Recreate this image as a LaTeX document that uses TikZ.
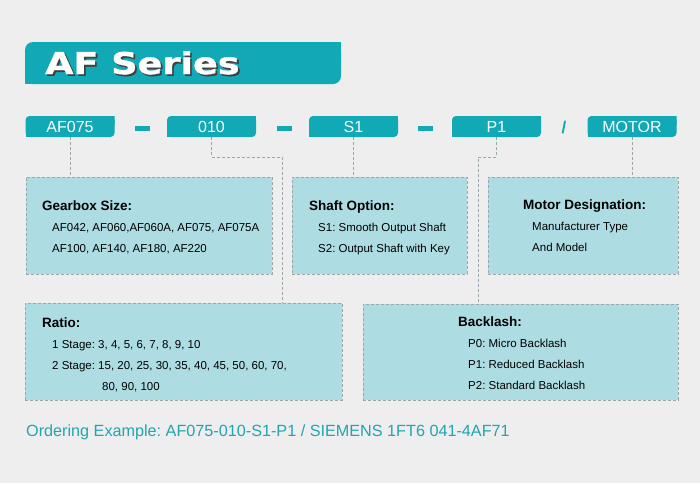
\documentclass[tikz,border=0pt]{standalone}
\usepackage{fontspec}
\setmainfont{Liberation Sans}
\newfontfamily\titlefont[FakeStretch=1.22,FakeBold=1.2]{DejaVu Sans Bold}
\usetikzlibrary{calc}
\frenchspacing

\definecolor{bggray}{HTML}{EEEEEE}
\definecolor{afteal}{HTML}{12A9B6}
\definecolor{boxcyan}{HTML}{ADDDE3}
\definecolor{linegray}{HTML}{9AA8AC}
\definecolor{ordteal}{HTML}{22A5B0}

\begin{document}
\begin{tikzpicture}[x=1pt,y=-1pt,
    tab/.style={inner sep=0pt,
      path picture={
        \fill[afteal,rounded corners=#1] (path picture bounding box.south west) rectangle (path picture bounding box.north east);
        \fill[afteal] (path picture bounding box.north east) rectangle ++(-9pt,-9pt);
        \fill[afteal] (path picture bounding box.south west) rectangle ++(9pt,9pt);}},
    tag/.style={tab=4pt,minimum width=89pt,minimum height=21pt,text=white,font=\fontsize{16}{16}\selectfont},
    info/.style={draw=linegray,dash pattern=on 3pt off 2pt,fill=boxcyan,line width=0.8pt,inner sep=0pt},
    txt/.style={anchor=north west,inner sep=0pt,align=left,font=\fontsize{11.5}{21}\selectfont},
    bar/.style={fill=afteal,minimum width=15pt,minimum height=4.5pt,inner sep=0pt},
    link/.style={draw=linegray,dash pattern=on 3pt off 2pt,line width=0.8pt}]
  \fill[bggray] (0,0) rectangle (700,483);
  \useasboundingbox (0,0) rectangle (700,483);

  % title banner
  \node[tab=8pt,minimum width=316pt,minimum height=42pt] (banner) at (183,63) {};
  \node[anchor=base west,inner sep=0pt,text=black!75,font=\titlefont\fontsize{30}{30}\selectfont] (titleshadow) at (46.8,75.8) {AF Series};
  \node[anchor=base west,inner sep=0pt,text=white,font=\titlefont\fontsize{30}{30}\selectfont] (title) at (45,74) {AF Series};

  % code tags
  \node[tag] (tsize) at (70,126.5) {AF075};
  \node[bar] (bar1) at (142.5,128.5) {};
  \node[tag] (tratio) at (211.5,126.5) {010};
  \node[bar] (bar2) at (284,128.5) {};
  \node[tag] (tshaft) at (353.5,126.5) {S1};
  \node[bar] (bar3) at (425,128.5) {};
  \node[tag] (tback) at (496.5,126.5) {P1};
  \node[inner sep=0pt,text=afteal,font=\fontsize{17}{17}\selectfont\bfseries] (slash) at (564,128) {/};
  \node[tag] (tmotor) at (632,126.5) {MOTOR};

  % boxes
  \node[info,minimum width=246pt,minimum height=97pt] (size) at (149,225.5) {};
  \node[info,minimum width=175pt,minimum height=97pt] (shaft) at (379.5,225.5) {};
  \node[info,minimum width=190pt,minimum height=97pt] (motor) at (583,225.5) {};
  \node[info,minimum width=317pt,minimum height=97pt] (ratio) at (183.5,351.5) {};
  \node[info,minimum width=315pt,minimum height=96pt] (backlash) at (520.5,352) {};

  \node[txt] (sizetext) at (42,201) {{\bfseries\fontsize{13.5}{21}\selectfont Gearbox Size:}\\
    \hspace*{10pt}AF042, AF060,AF060A, AF075, AF075A\\
    \hspace*{10pt}AF100, AF140, AF180, AF220};
  \node[txt] (shafttext) at (309,201) {{\bfseries\fontsize{13.5}{21}\selectfont Shaft Option:}\\
    \hspace*{9pt}S1: Smooth Output Shaft\\
    \hspace*{9pt}S2: Output Shaft with Key};
  \node[txt] (motortext) at (523,200) {{\bfseries\fontsize{13.5}{21}\selectfont Motor Designation:}\\
    \hspace*{9pt}Manufacturer Type\\
    \hspace*{9pt}And Model};
  \node[txt] (ratiotext) at (42,318) {{\bfseries\fontsize{13.5}{21}\selectfont Ratio:}\\
    \hspace*{10pt}1 Stage: 3, 4, 5, 6, 7, 8, 9, 10\\
    \hspace*{10pt}2 Stage: 15, 20, 25, 30, 35, 40, 45, 50, 60, 70,\\
    \hspace*{60pt}80, 90, 100};
  \node[txt] (backtext) at (458,317) {{\bfseries\fontsize{13.5}{21}\selectfont Backlash:}\\
    \hspace*{10pt}P0: Micro Backlash\\
    \hspace*{10pt}P1: Reduced Backlash\\
    \hspace*{10pt}P2: Standard Backlash};

  % links
  \coordinate (jogratio) at (282,157);
  \coordinate (jogback) at (478,157);
  \draw[link] (tsize.south) -- (tsize.south |- size.north);
  \draw[link] (tratio.south) |- (jogratio) -- (jogratio |- ratio.north);
  \draw[link] (tshaft.south) -- (tshaft.south |- shaft.north);
  \draw[link] (tback.south) |- (jogback) -- (jogback |- backlash.north);
  \draw[link] (tmotor.south) -- (tmotor.south |- motor.north);

  \node[anchor=base west,inner sep=0pt,text=ordteal,font=\fontsize{16.2}{16.2}\selectfont] (order) at (26,436)
    {Ordering Example: AF075-010-S1-P1 / SIEMENS 1FT6 041-4AF71};
\end{tikzpicture}
\end{document}
